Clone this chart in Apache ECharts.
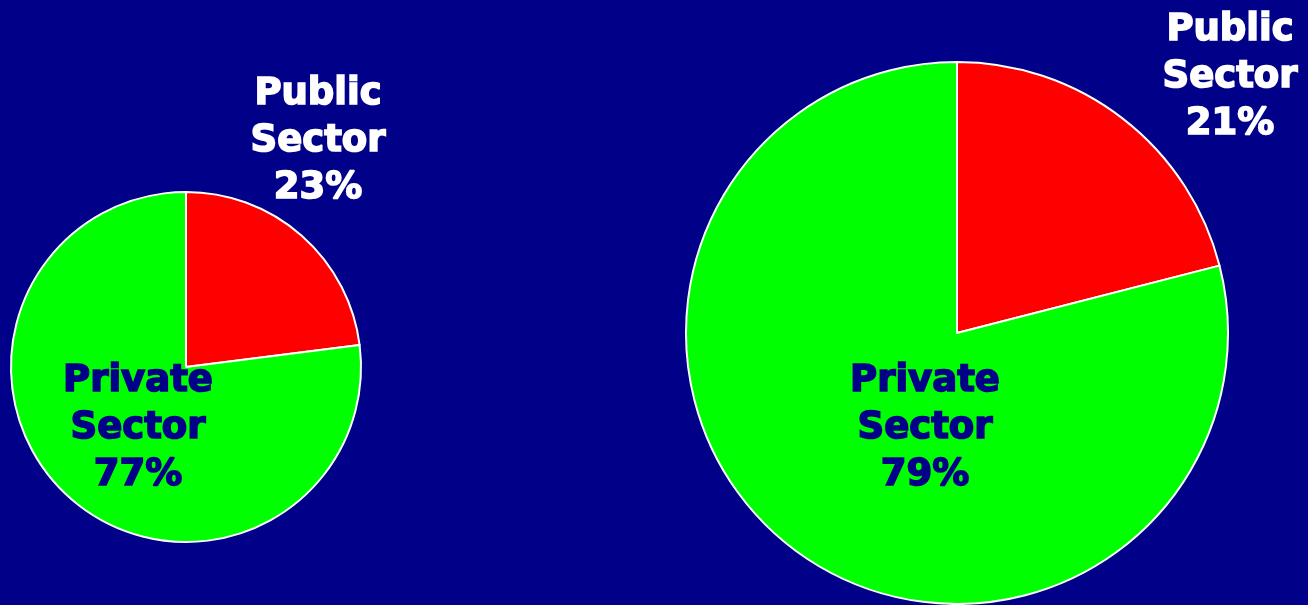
<!DOCTYPE html>
<html>
<head>
<meta charset="utf-8">
<script src="https://cdn.jsdelivr.net/npm/echarts@6/dist/echarts.min.js"></script>
<style>
  html, body { margin: 0; padding: 0; background: #000088; }
  #chart { width: 1308px; height: 605px; }
</style>
</head>
<body>
<div id="chart"></div>
<script>
// Sector names and shares for the two years compared
const sectors = ['Public\nSector', 'Private\nSector'];
const sharesEarlier = [23, 77];
const sharesLater = [21, 79];
const sliceColors = ['#ff0000', '#00ff00'];
const labelColors = ['#ffffff', '#000088'];

const labelFont = {
  fontFamily: 'DejaVu Sans',
  fontWeight: 'bold',
  fontSize: 37,
  lineHeight: 47,
  align: 'center'
};

function buildData(values) {
  return sectors.map((name, i) => ({
    name: name,
    value: values[i],
    itemStyle: { color: sliceColors[i] },
    // a thin outline in the text colour gives the heavy, poster-like weight
    label: Object.assign({
      color: labelColors[i],
      textBorderColor: labelColors[i],
      textBorderWidth: 1.6
    }, labelFont)
  }));
}

// label anchor points (centre of each text block) per pie
const labelSpots = [
  [[318, 141], [138, 428]],
  [[1230, 77], [925, 428]]
];

function makePie(values, center, radius, spots) {
  return {
    type: 'pie',
    center: center,
    radius: radius,
    startAngle: 90,
    clockwise: true,
    silent: true,
    animation: false,
    itemStyle: { borderColor: '#ffffff', borderWidth: 2 },
    label: {
      show: true,
      position: 'inside',
      formatter: p => p.name + '\n' + p.value + '%'
    },
    labelLine: { show: false },
    labelLayout: p => ({
      x: spots[p.dataIndex][0],
      y: spots[p.dataIndex][1],
      align: 'center',
      verticalAlign: 'middle'
    }),
    data: buildData(values)
  };
}

const chart = echarts.init(document.getElementById('chart'), null, { renderer: 'canvas' });
chart.setOption({
  backgroundColor: '#000088',
  series: [
    makePie(sharesEarlier, [186, 367], 175, labelSpots[0]),
    makePie(sharesLater, [957, 333], 271, labelSpots[1])
  ]
});
</script>
</body>
</html>
